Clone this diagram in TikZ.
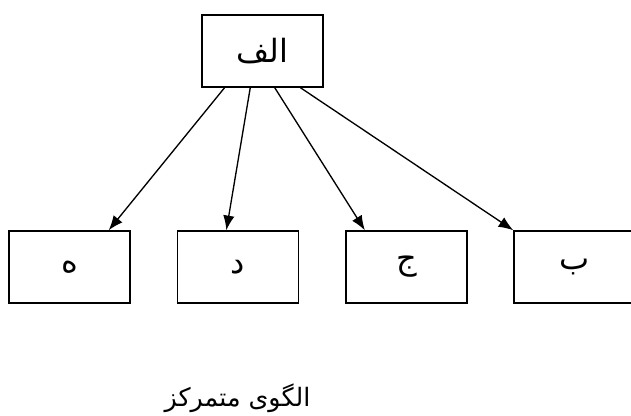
\documentclass[tikz,border=0pt]{standalone}
\usepackage{fontspec}
\newfontfamily\arabicfont[Script=Arabic]{DejaVu Sans}
\TeXXeTstate=1
\usetikzlibrary{arrows.meta}
\usetikzlibrary{calc}

\begin{document}
\begin{tikzpicture}[x=0.75pt,y=-0.75pt,
  box/.style={draw=black,line width=1.1pt,minimum width=90.75pt,minimum height=54pt,inner sep=0pt,font=\arabicfont\fontsize{24}{28}\selectfont},
  link/.style={line width=1pt,-{Latex[length=11pt,width=8.5pt]}}]
\clip (0,0) rectangle (631,416);
\fill[white] (0,0) rectangle (631,416);
% head
\node[box] (alef) at (262.5,51) {\beginR الف\endR};
% branches
\node[box] (he) at (69.5,267) {\beginR ه\endR};
\node[box] (dal) at (238,267) {\beginR د\endR};
\node[box] (jim) at (406.5,267) {\beginR ج\endR};
\node[box] (be) at (574.5,267) {\beginR ب\endR};
\draw[link] ($(alef.south west)!0.19!(alef.south east)$) -- ($(he.north west)!0.82!(he.north east)$);
\draw[link] ($(alef.south west)!0.4!(alef.south east)$) -- ($(dal.north west)!0.405!(dal.north east)$);
\draw[link] ($(alef.south west)!0.6!(alef.south east)$) -- ($(jim.north west)!0.16!(jim.north east)$);
\draw[link] ($(alef.south west)!0.81!(alef.south east)$) -- (be.north west);
\node[font=\arabicfont\fontsize{19}{22}\selectfont,anchor=base,inner sep=0pt] (title) at (237.5,406) {\beginR الگوی متمرکز\endR};
\end{tikzpicture}
\end{document}
